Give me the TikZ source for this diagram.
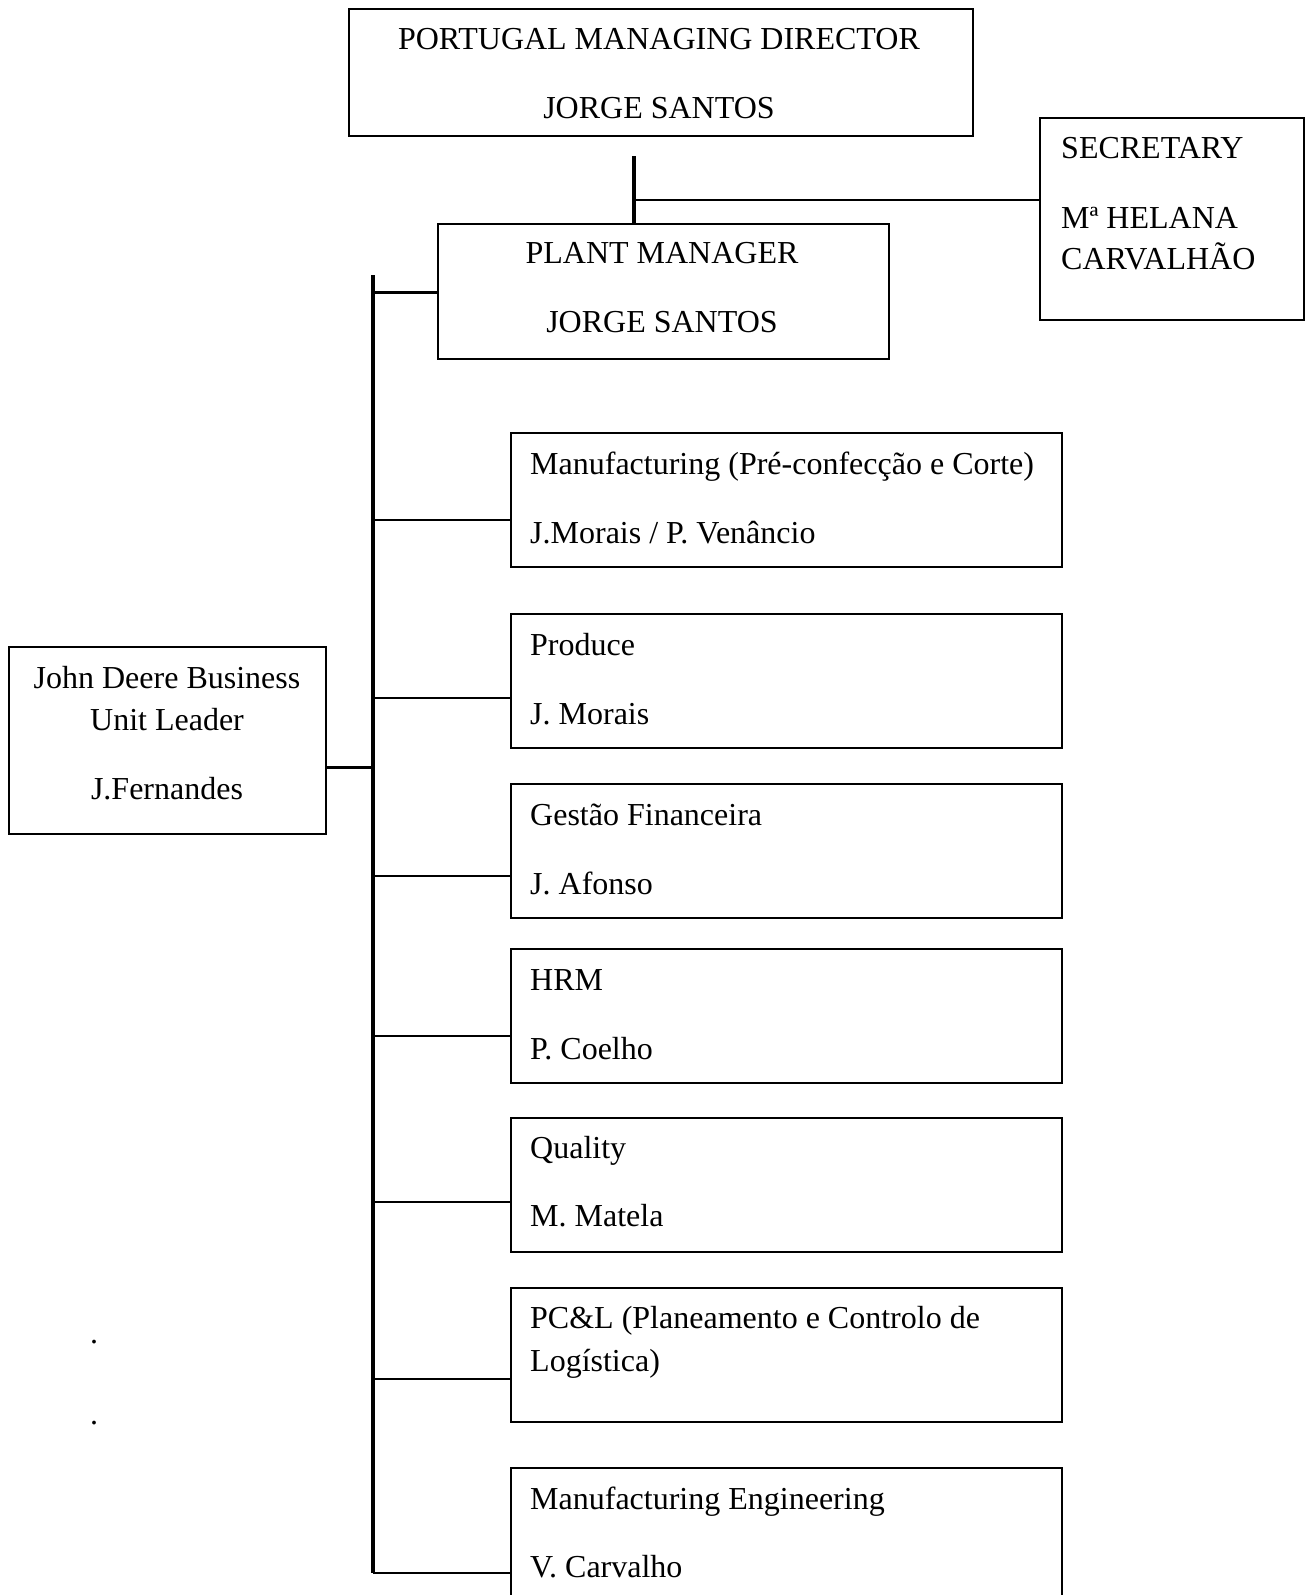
\documentclass[tikz,border=0pt]{standalone}
\usepackage{fontspec}
\setmainfont{Liberation Serif}
\begin{document}
\begin{tikzpicture}[x=1pt,y=-1pt,
  box/.style={draw=black, line width=1.6pt, anchor=north west, inner sep=0pt, fill=none},
  rbox/.style={box, minimum width=551pt, minimum height=134pt},
  txt/.style={inner sep=0pt, font=\fontsize{32}{41.7}\selectfont},
  ltxt/.style={txt, anchor=base west},
  ctxt/.style={txt, anchor=base},
  branch/.style={line width=1.6pt},
  thick line/.style={line width=3pt},
  spine/.style={line width=4.5pt}]
\useasboundingbox (0,0) rectangle (1306,1595);
\fill[white] (0,0) rectangle (1306,1595);

% boxes
\node[box, minimum width=624pt, minimum height=127pt] (top) at (348,8) {};
\node[box, minimum width=264pt, minimum height=202pt] (sec) at (1039,117) {};
\node[box, minimum width=451pt, minimum height=135pt] (plant) at (437,223) {};
\node[box, minimum width=317pt, minimum height=187pt] (jd) at (8,646) {};
\node[rbox] (b1) at (510,432) {};
\node[rbox] (b2) at (510,613) {};
\node[rbox] (b3) at (510,783) {};
\node[rbox] (b4) at (510,948) {};
\node[rbox] (b5) at (510,1117) {};
\node[rbox] (b6) at (510,1287) {};
\node[rbox, minimum height=160pt] (b7) at (510,1467) {};

% texts
\node[ctxt] (topt1) at (659,50) {PORTUGAL MANAGING DIRECTOR};
\node[ctxt] (topt2) at (659,118) {JORGE SANTOS};
\node[ltxt] (sect1) at (1061,158) {SECRETARY};
\node[ltxt] (sect2) at (1061,228) {Mª HELANA};
\node[ltxt] (sect3) at (1061,269) {CARVALHÃO};
\node[ctxt] (plt1) at (662,263) {PLANT MANAGER};
\node[ctxt] (plt2) at (662,332) {JORGE SANTOS};
\node[ctxt] (jdt1) at (167,688) {John Deere Business};
\node[ctxt] (jdt2) at (167,730) {Unit Leader};
\node[ctxt] (jdt3) at (167,799) {J.Fernandes};
\node[ltxt] (b1t1) at (530,474) {Manufacturing (Pré-confecção e Corte)};
\node[ltxt] (b1t2) at (530,543) {J.Morais / P. Venâncio};
\node[ltxt] (b2t1) at (530,655) {Produce};
\node[ltxt] (b2t2) at (530,724) {J. Morais};
\node[ltxt] (b3t1) at (530,825) {Gestão Financeira};
\node[ltxt] (b3t2) at (530,894) {J. Afonso};
\node[ltxt] (b4t1) at (530,990) {HRM};
\node[ltxt] (b4t2) at (530,1059) {P. Coelho};
\node[ltxt] (b5t1) at (530,1158) {Quality};
\node[ltxt] (b5t2) at (530,1226) {M. Matela};
\node[ltxt] (b6t1) at (530,1328) {PC\&L (Planeamento e Controlo de};
\node[ltxt] (b6t2) at (530,1371) {Logística)};
\node[ltxt] (b7t1) at (530,1509) {Manufacturing Engineering};
\node[ltxt] (b7t2) at (530,1577) {V. Carvalho};
\node[ctxt] (dot1) at (94,1343) {.};
\node[ctxt] (dot2) at (94,1424) {.};

% connectors
\coordinate (vtop) at (634,156);
\coordinate (sx) at (373,0);
\coordinate (stop) at (373,275);
\coordinate (sbot) at (373,1573);
\draw[spine] (vtop) -- (vtop |- plant.north);
\draw[branch] (634,200) -- (sec.west |- 0,200);
\draw[spine] (stop) -- (sbot);
\draw[thick line] (sx |- 0,292) -- (plant.west |- 0,292);
\draw[thick line] (jd.east |- 0,767) -- (sx |- 0,767);
\draw[branch] (sx |- 0,520) -- (b1.west |- 0,520);
\draw[branch] (sx |- 0,698) -- (b2.west |- 0,698);
\draw[branch] (sx |- 0,876) -- (b3.west |- 0,876);
\draw[branch] (sx |- 0,1036) -- (b4.west |- 0,1036);
\draw[branch] (sx |- 0,1202) -- (b5.west |- 0,1202);
\draw[branch] (sx |- 0,1379) -- (b6.west |- 0,1379);
\draw[branch] (sbot) -- (b7.west |- sbot);
\end{tikzpicture}
\end{document}
